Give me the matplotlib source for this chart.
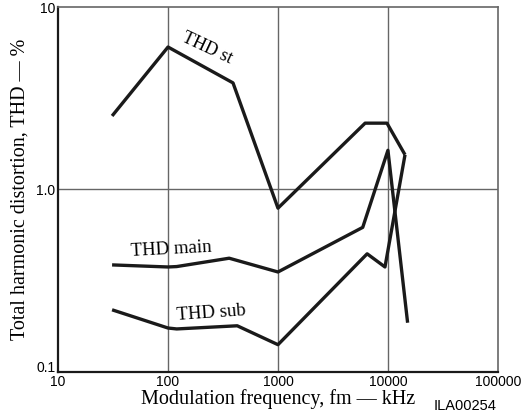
import matplotlib.pyplot as plt
from matplotlib.ticker import FixedLocator, NullLocator
from matplotlib.transforms import ScaledTranslation

# curve data (frequency in kHz, THD in %)
st_freq = [31, 100, 390, 1000, 6200, 9800, 14300]
st_thd = [2.53, 6.04, 3.84, 0.79, 2.31, 2.31, 1.55]

main_freq = [31, 100, 120, 360, 1000, 5900, 10000, 15100]
main_thd = [0.386, 0.376, 0.378, 0.42, 0.353, 0.62, 1.64, 0.186]

sub_freq = [31, 100, 120, 426, 1000, 6470, 9400, 14300]
sub_thd = [0.219, 0.174, 0.172, 0.179, 0.141, 0.444, 0.376, 1.55]

x_ticks = [10, 100, 1000, 10000, 100000]
x_tick_labels = ['10', '100', '1000', '10000', '100000']
y_ticks = [0.1, 1.0, 10]
y_tick_labels = ['0.1', '1.0', '10']

serif = ['Liberation Serif', 'DejaVu Serif']
sans = ['Liberation Sans', 'DejaVu Sans']

fig = plt.figure(figsize=(5.23, 4.16), dpi=100)
ax = fig.add_axes([0.111, 0.106, 0.841, 0.877])

ax.set_xscale('log')
ax.set_yscale('log')
ax.set_xlim(10, 100000)
ax.set_ylim(0.1, 10)

# grid lines only at the inner decades
for gx in [100, 1000, 10000]:
    ax.axvline(gx, color='#666666', lw=1.0, zorder=1)
ax.axhline(1.0, color='#666666', lw=1.0, zorder=1)

for f, v in [(st_freq, st_thd), (main_freq, main_thd), (sub_freq, sub_thd)]:
    ax.plot(f, v, color='#1a1a1a', lw=2.4, solid_joinstyle='round',
            solid_capstyle='butt', zorder=3)

ax.text(226, 5.96, 'THD st', rotation=-25, ha='center', va='center',
        fontsize=13, family=serif)
ax.text(107, 0.467, 'THD main', rotation=3, ha='center', va='center',
        fontsize=13.5, family=serif)
ax.text(246, 0.209, 'THD sub', rotation=4, ha='center', va='center',
        fontsize=13.5, family=serif)

ax.xaxis.set_major_locator(FixedLocator(x_ticks))
ax.xaxis.set_minor_locator(NullLocator())
ax.set_xticklabels(x_tick_labels)
ax.yaxis.set_major_locator(FixedLocator(y_ticks))
ax.yaxis.set_minor_locator(NullLocator())
ax.set_yticklabels(y_tick_labels)
ax.tick_params(length=0, pad=2, labelsize=10)
for lab in ax.get_xticklabels() + ax.get_yticklabels():
    lab.set_family(sans)
# the bottom y label sits a little above the axis corner
low = ax.get_yticklabels()[0]
low.set_transform(low.get_transform() + ScaledTranslation(0, 4 / 72, fig.dpi_scale_trans))

for s in ['left', 'bottom']:
    ax.spines[s].set_color('#1a1a1a')
    ax.spines[s].set_linewidth(1.6)
for s in ['top', 'right']:
    ax.spines[s].set_color('#666666')
    ax.spines[s].set_linewidth(1.2)

ax.set_xlabel('Modulation frequency, fm \u2014 kHz', fontsize=14.5,
              family=serif, labelpad=0)
ax.set_ylabel('Total harmonic distortion, THD \u2014 %', fontsize=14.5,
              family=serif, labelpad=5)

fig.text(0.95, 0.025, 'ILA00254', ha='right', va='center', fontsize=10.5,
         family=sans)

fig.savefig('out.png', dpi=100)
